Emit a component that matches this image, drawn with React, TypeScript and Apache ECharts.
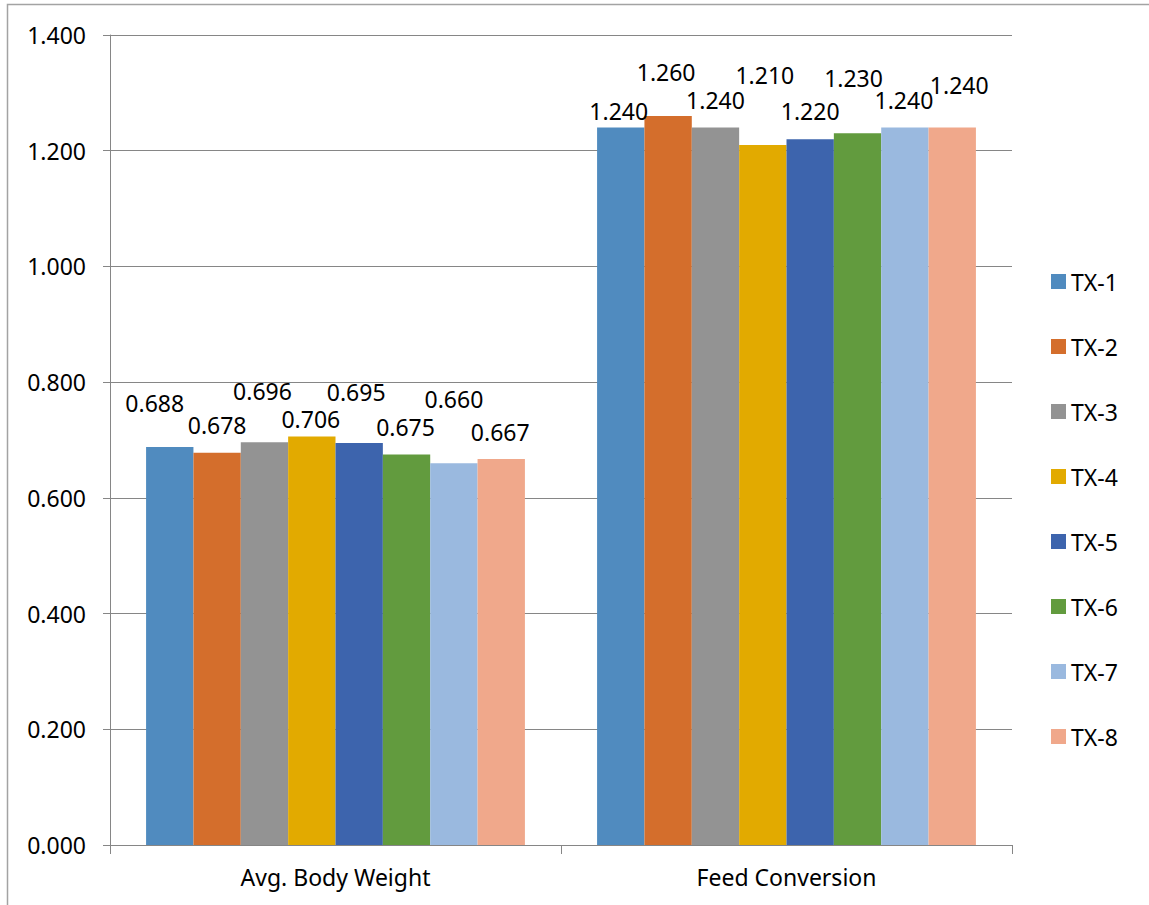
import React, { useEffect, useRef } from "react";
import * as echarts from "echarts";

// Categories on the x axis
const categories = ["Avg. Body Weight", "Feed Conversion"];

// Treatment names (one bar series each)
const treatments = ["TX-1", "TX-2", "TX-3", "TX-4", "TX-5", "TX-6", "TX-7", "TX-8"];

// Values per treatment: [avg. body weight, feed conversion]
const tx1 = [0.688, 1.24];
const tx2 = [0.678, 1.26];
const tx3 = [0.696, 1.24];
const tx4 = [0.706, 1.21];
const tx5 = [0.695, 1.22];
const tx6 = [0.675, 1.23];
const tx7 = [0.66, 1.24];
const tx8 = [0.667, 1.24];
const seriesValues = [tx1, tx2, tx3, tx4, tx5, tx6, tx7, tx8];

// Y axis tick values
const yTicks = [0, 0.2, 0.4, 0.6, 0.8, 1.0, 1.2, 1.4];

const colors = [
  "#508bbf",
  "#d46e2c",
  "#939393",
  "#e2aa00",
  "#3d64ad",
  "#629b3e",
  "#9ab9df",
  "#f0a88b",
];

// Manual label placement: lift above the bar top (px) and horizontal nudge (px),
// per treatment, for [body weight, feed conversion]
const labelLift = [
  [44, 16.5],
  [28, 44],
  [51.5, 27.5],
  [17.5, 70],
  [51, 28],
  [27.5, 55],
  [64, 27.5],
  [27.5, 42.5],
];
const labelShift = [
  [-15, -2],
  [0, -2],
  [-2, 0],
  [-1, 2],
  [-3, 0],
  [-1, -4],
  [0, -1],
  [-1, 7],
];

const FONT = "'Noto Sans', 'Open Sans', sans-serif";
const FS = 23;

export default function App() {
  const ref = useRef<HTMLDivElement>(null);

  useEffect(() => {
    if (!ref.current) return;
    const chart = echarts.init(ref.current, null, { renderer: "svg" });

    const series = treatments.map((name, i) => ({
      name,
      type: "bar",
      barGap: "0%",
      barCategoryGap: "16%",
      itemStyle: { color: colors[i] },
      label: {
        show: true,
        position: "top",
        distance: 0,
        color: "#000",
        fontFamily: FONT,
        fontSize: FS,
        formatter: (p: any) => Number(p.value).toFixed(3),
      },
      data: seriesValues[i].map((v, j) => ({
        value: v,
        label: { offset: [labelShift[i][j], -(labelLift[i][j] - FS / 2)] },
      })),
    }));

    chart.setOption({
      animation: false,
      backgroundColor: "#ffffff",
      textStyle: { fontFamily: FONT },
      graphic: [
        {
          type: "rect",
          shape: { x: 7.5, y: 4.5, width: 1200, height: 1000 },
          style: { fill: "none", stroke: "#a3a3a3", lineWidth: 1.5 },
          silent: true,
        },
      ],
      grid: {
        left: 110,
        right: 137,
        top: 35,
        bottom: 60,
        containLabel: false,
        outerBoundsMode: "none",
      },
      legend: {
        orient: "vertical",
        left: 1051,
        top: 270,
        padding: 0,
        icon: "rect",
        itemWidth: 15,
        itemHeight: 15,
        itemGap: 42,
        data: treatments,
        textStyle: {
          color: "#000",
          fontFamily: FONT,
          fontSize: FS,
          lineHeight: FS,
        },
        selectedMode: false,
      },
      xAxis: {
        type: "category",
        data: categories,
        axisLine: { show: true, lineStyle: { color: "#868686", width: 1 } },
        axisTick: { show: true, length: 9, lineStyle: { color: "#868686" } },
        axisLabel: {
          color: "#000",
          fontFamily: FONT,
          fontSize: FS,
          margin: 20,
        },
      },
      yAxis: {
        type: "value",
        min: yTicks[0],
        max: yTicks[yTicks.length - 1],
        interval: 0.2,
        axisLine: { show: true, lineStyle: { color: "#868686", width: 1 } },
        axisTick: { show: true, length: 7, lineStyle: { color: "#868686" } },
        splitLine: { show: true, lineStyle: { color: "#868686", width: 1 } },
        axisLabel: {
          color: "#000",
          fontFamily: FONT,
          fontSize: FS,
          margin: 24,
          formatter: (v: number) => v.toFixed(3),
        },
      },
      series,
    });

    return () => chart.dispose();
  }, []);

  return (
    <div
      ref={ref}
      style={{
        position: "fixed",
        left: 0,
        top: 0,
        width: 1149,
        height: 905,
        background: "#fff",
      }}
    />
  );
}
